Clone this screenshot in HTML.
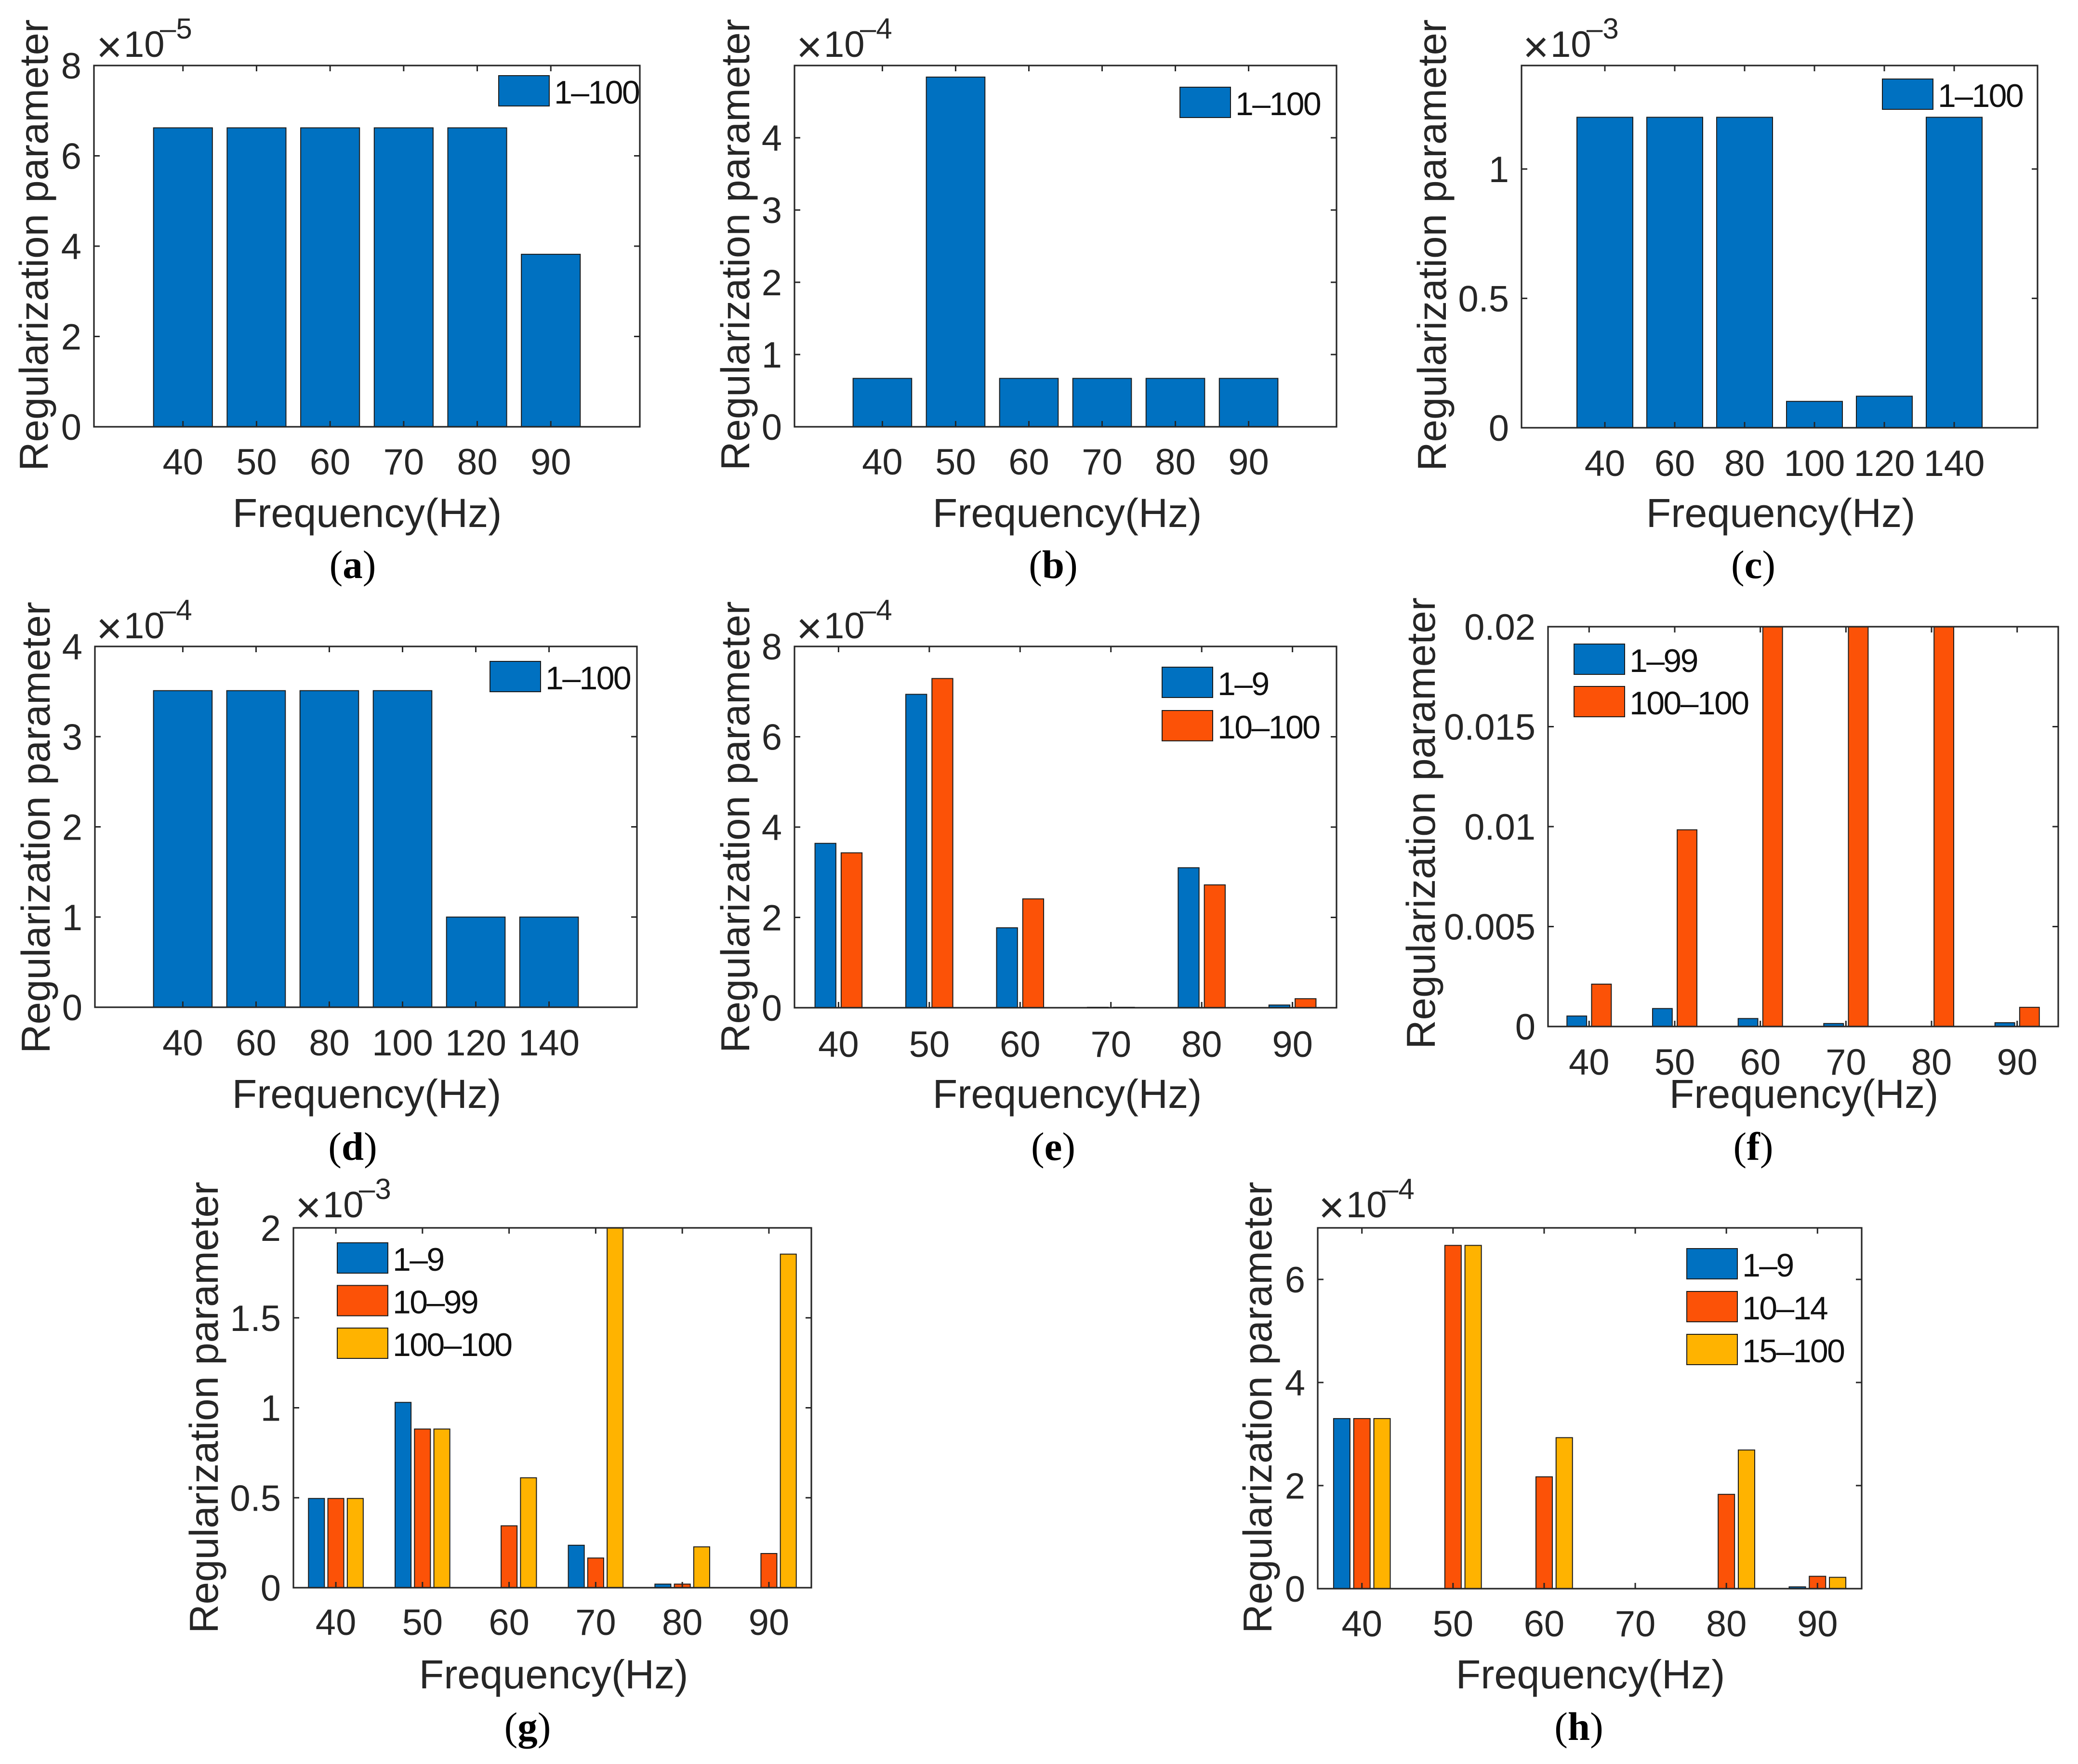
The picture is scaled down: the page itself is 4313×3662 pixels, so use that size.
<!DOCTYPE html>
<html lang="en">
<head>
<meta charset="utf-8">
<title>Regularization parameter charts</title>
<style>
html,body{margin:0;padding:0;background:#fff;width:4313px;height:3662px;overflow:hidden}
svg{display:block}
text{font-family:"Liberation Sans",sans-serif;fill:#262626}
</style>
</head>
<body>
<svg id="figure" xmlns="http://www.w3.org/2000/svg" width="4313" height="3662" viewBox="0 0 4313 3662"></svg>
<script>
// ---- Data ----
const freqA = [40, 50, 60, 70, 80, 90];
const ticksA = [0, 2, 4, 6, 8];
const valuesA1 = [6.62, 6.62, 6.62, 6.62, 6.62, 3.82];
const legendA = ['1–100'];

const freqB = [40, 50, 60, 70, 80, 90];
const ticksB = [0, 1, 2, 3, 4];
const valuesB1 = [0.67, 4.84, 0.67, 0.67, 0.67, 0.67];
const legendB = ['1–100'];

const freqC = [40, 60, 80, 100, 120, 140];
const ticksC = [0, 0.5, 1];
const valuesC1 = [1.2, 1.2, 1.2, 0.102, 0.122, 1.2];
const legendC = ['1–100'];

const freqD = [40, 60, 80, 100, 120, 140];
const ticksD = [0, 1, 2, 3, 4];
const valuesD1 = [3.51, 3.51, 3.51, 3.51, 1.0, 1.0];
const legendD = ['1–100'];

const freqE = [40, 50, 60, 70, 80, 90];
const ticksE = [0, 2, 4, 6, 8];
const valuesE1 = [3.64, 6.94, 1.77, 0.01, 3.1, 0.06];
const valuesE2 = [3.43, 7.29, 2.41, 0.01, 2.72, 0.2];
const legendE = ['1–9', '10–100'];

const freqF = [40, 50, 60, 70, 80, 90];
const ticksF = [0, 0.005, 0.01, 0.015, 0.02];
const valuesF1 = [0.000525, 0.0009, 0.0004, 0.00015, 0, 0.00019];
const valuesF2 = [0.00212, 0.00984, 0.03, 0.03, 0.03, 0.00096];
const legendF = ['1–99', '100–100'];

const freqG = [40, 50, 60, 70, 80, 90];
const ticksG = [0, 0.5, 1, 1.5, 2];
const valuesG1 = [0.496, 1.03, 0, 0.236, 0.02, 0];
const valuesG2 = [0.496, 0.882, 0.344, 0.165, 0.02, 0.19];
const valuesG3 = [0.496, 0.882, 0.611, 2.5, 0.227, 1.854];
const legendG = ['1–9', '10–99', '100–100'];

const freqH = [40, 50, 60, 70, 80, 90];
const ticksH = [0, 2, 4, 6];
const valuesH1 = [3.3, 0, 0, 0, 0, 0.035];
const valuesH2 = [3.3, 6.66, 2.17, 0, 1.83, 0.24];
const valuesH3 = [3.3, 6.66, 2.93, 0, 2.69, 0.22];
const legendH = ['1–9', '10–14', '15–100'];

const seriesColors = ['#0071c1', '#fc5207', '#ffb300'];

// ---- Panels (data references + layout) ----
const panels = [
  {id:'a', cats:freqA, ticks:ticksA, series:[valuesA1], legend:legendA, ymax:8, exp:'–5', L:195, R:1328, T:136, B:886, margin:1.21, bw:0.8, gap:0,
   ylx:99, yly:509, xlx:762, xly:1094, tky:985, capx:732, capy:1200, expx:207, expy:118, lgx:1035, lgy:157, lgs:88},
  {id:'b', cats:freqB, ticks:ticksB, series:[valuesB1], legend:legendB, ymax:5, exp:'–4', L:1649, R:2774, T:136, B:886, margin:1.2, bw:0.8, gap:0,
   ylx:1555, yly:508, xlx:2215, xly:1094, tky:985, capx:2186, capy:1200, expx:1660, expy:118, lgx:2449, lgy:181, lgs:88},
  {id:'c', cats:freqC, ticks:ticksC, series:[valuesC1], legend:legendC, ymax:1.4, exp:'–3', L:3158, R:4229, T:136, B:888, margin:1.193, bw:0.8, gap:0,
   ylx:3001, yly:509, xlx:3696, xly:1094, tky:988, capx:3639, capy:1200, expx:3168, expy:118, lgx:3907, lgy:164, lgs:88},
  {id:'d', cats:freqD, ticks:ticksD, series:[valuesD1], legend:legendD, ymax:4, exp:'–4', L:197, R:1322, T:1342, B:2091, margin:1.2, bw:0.8, gap:0,
   ylx:103, yly:1718, xlx:761, xly:2300, tky:2191, capx:732, capy:2408, expx:207, expy:1325, lgx:1017, lgy:1373, lgs:88},
  {id:'e', cats:freqE, ticks:ticksE, series:[valuesE1, valuesE2], legend:legendE, ymax:8, exp:'–4', L:1649, R:2774, T:1342, B:2092, margin:0.485, bw:0.23, gap:0.288,
   ylx:1555, yly:1717, xlx:2215, xly:2300, tky:2194, capx:2186, capy:2408, expx:1660, expy:1325, lgx:2412, lgy:1385, lgs:90},
  {id:'f', cats:freqF, ticks:ticksF, series:[valuesF1, valuesF2], legend:legendF, ymax:0.02, exp:'', L:3213, R:4272, T:1301, B:2131, margin:0.48, bw:0.23, gap:0.288,
   ylx:2978, yly:1709, xlx:3744, xly:2300, tky:2231, capx:3639, capy:2408, expx:0, expy:0, lgx:3267, lgy:1337, lgs:88},
  {id:'g', cats:freqG, ticks:ticksG, series:[valuesG1, valuesG2, valuesG3], legend:legendG, ymax:2, exp:'–3', L:609, R:1684, T:2549, B:3296, margin:0.49, bw:0.184, gap:0.224,
   ylx:452, yly:2922, xlx:1149, xly:3505, tky:3394, capx:1095, capy:3612, expx:620, expy:2527, lgx:700, lgy:2580, lgs:88.5},
  {id:'h', cats:freqH, ticks:ticksH, series:[valuesH1, valuesH2, valuesH3], legend:legendH, ymax:7, exp:'–4', L:2735, R:3864, T:2549, B:3298, margin:0.485, bw:0.18, gap:0.221,
   ylx:2639, yly:2922, xlx:3301, xly:3505, tky:3397, capx:3277, capy:3612, expx:2744, expy:2527, lgx:3501, lgy:2592, lgs:89}
];

const SVG_NS = 'http://www.w3.org/2000/svg';
const AXIS = '#262626';
const EDGE = '#1c1c1c';
const root = document.getElementById('figure');

function make(parent, tag, attrs, content) {
  const node = document.createElementNS(SVG_NS, tag);
  for (const k in attrs) node.setAttribute(k, attrs[k]);
  if (content !== undefined) node.textContent = content;
  parent.appendChild(node);
  return node;
}

function drawPanel(p) {
  const g = make(root, 'g', {});
  
  

  const n = p.cats.length;
  const step = (p.R - p.L) / (n - 1 + 2 * p.margin);
  const xScale = i => p.L + (p.margin + i) * step;
  const yScale = v => p.B - (Math.min(v, p.ymax) / p.ymax) * (p.B - p.T);

  // bars
  const sCount = p.series.length;
  p.series.forEach((vals, s) => {
    vals.forEach((v, i) => {
      if (v <= 0) return;
      const cx = xScale(i) + (s - (sCount - 1) / 2) * p.gap * step;
      const w = p.bw * step;
      const top = yScale(v);
      const bar = make(g, 'rect', {x: cx - w / 2, y: top, width: w, height: p.B - top,
        fill: seriesColors[s], stroke: EDGE, 'stroke-width': 2});
      
      
    });
  });

  // axes box
  const box = make(g, 'rect', {x: p.L, y: p.T, width: p.R - p.L, height: p.B - p.T,
    fill: 'none', stroke: AXIS, 'stroke-width': 3.2});
  
  

  // x ticks + labels
  p.cats.forEach((c, i) => {
    const x = xScale(i);
    make(g, 'path', {d: `M${x} ${p.B}v-12M${x} ${p.T}v12`, stroke: AXIS, 'stroke-width': 3, fill: 'none'});
    const lab = make(g, 'text', {x: x, y: p.tky, 'font-size': 76, 'text-anchor': 'middle'}, String(c));
    
    
  });

  // y ticks + labels
  p.ticks.forEach(t => {
    const y = yScale(t);
    make(g, 'path', {d: `M${p.L} ${y}h12M${p.R} ${y}h-12`, stroke: AXIS, 'stroke-width': 3, fill: 'none'});
    const lab = make(g, 'text', {x: p.L - 26, y: y + 27, 'font-size': 76, 'text-anchor': 'end'}, String(t));
    
    
  });

  // axis titles
  const yt = make(g, 'text', {x: 0, y: 0, 'font-size': 83.5,
    'text-anchor': 'middle', transform: `translate(${p.ylx} ${p.yly}) rotate(-90)`}, 'Regularization parameter');
  
  

  const xt = make(g, 'text', {x: p.xlx, y: p.xly, 'font-size': 84.5, 'text-anchor': 'middle'}, 'Frequency(Hz)');
  
  

  // scale exponent
  if (p.exp) {
    const mult = make(g, 'text', {x: p.expx - 7, y: p.expy + 11, 'font-size': 92}, '×');
    
    
    const ten = make(g, 'text', {x: p.expx + 50, y: p.expy, 'font-size': 76}, '10');
    
    
    const pw = make(g, 'text', {x: p.expx + 125, y: p.expy - 38, 'font-size': 60}, p.exp);
    
    
  }

  // legend
  p.legend.forEach((name, s) => {
    const y = p.lgy + s * p.lgs;
    const sw = make(g, 'rect', {x: p.lgx, y: y, width: 105, height: 63,
      fill: seriesColors[s], stroke: EDGE, 'stroke-width': 2});
    
    
    const lt = make(g, 'text', {x: p.lgx + 115, y: y + 58, 'font-size': 68, 'letter-spacing': -2.6}, name);
    lt.style.fill = '#111';
    
    
  });

  // caption
  const cap = make(g, 'text', {x: p.capx, y: p.capy, 'font-size': 83, 'text-anchor': 'middle'});
  cap.style.fontFamily = '"Liberation Serif", serif';
  cap.style.fill = '#000';
  
  
  make(cap, 'tspan', {}, '(');
  make(cap, 'tspan', {'font-weight': 'bold'}, p.id);
  make(cap, 'tspan', {}, ')');
}

panels.forEach(drawPanel);
</script>
</body>
</html>
